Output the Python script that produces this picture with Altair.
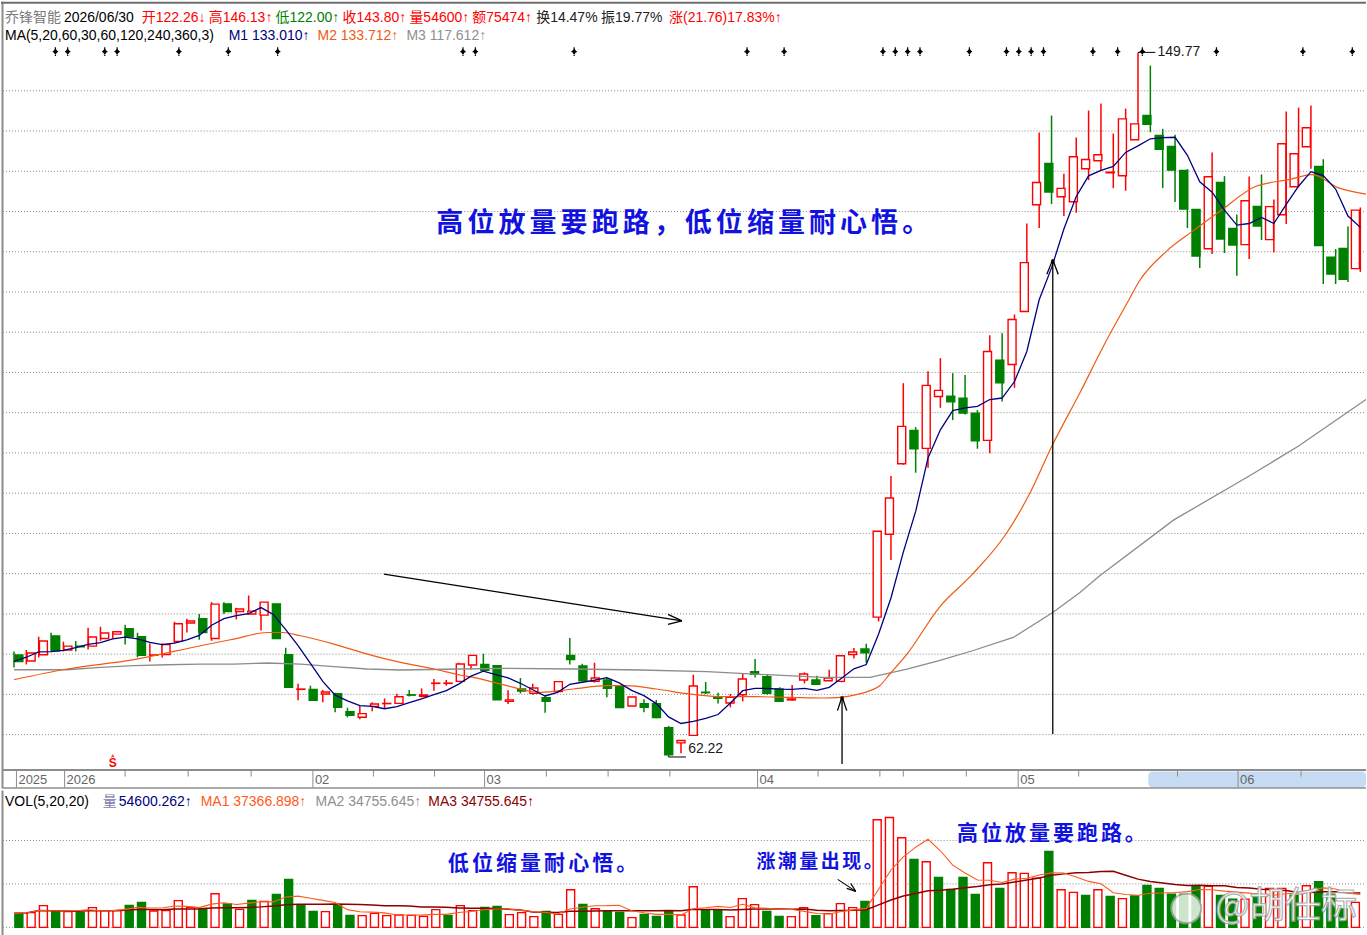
import altair as alt
import pandas as pd

# ---------------- data ----------------
opens = [74.89, 74.14, 74.93, 77.25, 75.51, 76.00, 76.00, 76.95, 77.49, 78.15,
         77.16, 74.84, 74.96, 76.58, 78.86, 79.39, 76.95, 81.25, 80.30, 79.98,
         79.85, 81.25, 74.93, 70.62, 70.62, 70.05, 70.09, 67.85, 67.15, 68.51,
         68.85, 68.88, 69.95, 69.75, 71.36, 71.36, 71.61, 73.65, 73.72, 73.56,
         69.13, 70.67, 70.12, 69.59, 70.34, 74.84, 73.52, 71.61, 71.79, 71.08,
         68.56, 68.85, 68.85, 65.87, 63.97, 64.91, 70.27, 69.68, 68.93, 69.96,
         72.82, 72.20, 70.67, 69.31, 71.79, 71.79, 71.70, 71.61, 74.96, 75.63,
         79.60, 89.90, 98.66, 102.80, 100.57, 107.02, 107.06, 106.81, 104.95, 101.56,
         111.53, 110.99, 117.57, 130.84, 135.97, 131.84, 131.22, 135.31, 136.30, 134.82,
         134.44, 138.91, 141.92, 139.44, 138.08, 135.10, 130.26, 125.38, 133.61, 127.90,
         125.88, 130.63, 126.50, 129.60, 133.08, 138.04, 135.60, 124.31, 125.42, 122.90]
highs = [75.33, 75.51, 77.16, 77.66, 76.54, 76.63, 78.28, 78.40, 77.78, 78.65,
         77.66, 76.33, 76.33, 79.02, 79.39, 79.98, 81.46, 81.46, 80.76, 82.28,
         81.46, 81.25, 75.79, 71.33, 71.08, 70.55, 70.21, 68.35, 68.56, 69.01,
         69.50, 70.09, 70.55, 70.74, 71.91, 71.79, 73.93, 74.84, 75.05, 73.56,
         70.50, 72.03, 71.33, 69.88, 71.66, 77.00, 73.81, 73.93, 72.11, 71.08,
         69.68, 69.38, 69.31, 66.08, 64.26, 72.44, 71.54, 70.21, 70.05, 72.61,
         74.39, 72.44, 70.87, 71.17, 72.73, 72.32, 73.06, 74.80, 75.76, 76.29,
         90.27, 97.13, 108.67, 103.21, 110.16, 111.77, 109.91, 109.67, 105.32, 114.63,
         114.88, 117.20, 128.52, 139.81, 141.92, 134.69, 139.19, 142.54, 143.41, 139.69,
         142.79, 149.77, 148.13, 140.27, 139.53, 135.26, 130.26, 137.33, 134.39, 129.64,
         134.36, 134.60, 131.50, 142.42, 142.92, 143.16, 136.50, 125.34, 128.15, 130.50]
lows = [73.35, 73.72, 74.59, 75.42, 75.33, 75.33, 75.58, 76.66, 76.91, 76.20,
        74.59, 74.09, 74.59, 76.41, 77.69, 76.79, 76.66, 79.98, 79.31, 79.98,
        77.94, 76.87, 70.87, 69.26, 69.26, 69.01, 67.77, 67.15, 66.90, 67.89,
        68.31, 68.88, 69.75, 69.63, 70.46, 71.08, 71.61, 73.10, 72.98, 69.34,
        68.81, 70.12, 69.96, 67.73, 70.34, 73.72, 71.70, 71.45, 69.63, 68.35,
        68.56, 67.77, 67.02, 62.22, 62.68, 64.91, 70.05, 68.88, 68.39, 69.13,
        72.11, 69.96, 69.13, 69.22, 71.36, 71.24, 71.70, 71.49, 74.47, 73.93,
        79.06, 86.71, 98.54, 97.54, 98.16, 105.61, 104.08, 104.79, 100.52, 99.95,
        106.40, 108.09, 117.57, 127.94, 130.92, 129.43, 129.85, 133.90, 135.06, 132.90,
        132.58, 138.91, 139.85, 132.90, 131.17, 127.94, 122.98, 124.71, 124.84, 122.03,
        124.09, 126.45, 124.89, 128.44, 133.08, 135.31, 120.99, 120.99, 121.24, 122.50]
closes = [74.09, 75.14, 76.63, 75.42, 76.00, 75.92, 77.12, 77.62, 77.78, 77.16,
          74.84, 74.90, 76.20, 78.77, 79.11, 77.69, 81.22, 80.30, 80.60, 80.35,
          81.46, 76.95, 70.87, 70.66, 69.26, 70.30, 68.39, 67.39, 67.61, 68.81,
          68.88, 69.71, 69.90, 69.93, 71.40, 71.40, 73.77, 74.84, 72.98, 69.34,
          69.31, 70.42, 70.79, 69.13, 71.58, 74.34, 71.70, 72.03, 70.74, 68.35,
          69.68, 68.39, 67.11, 62.48, 64.26, 71.04, 70.21, 69.50, 69.63, 71.91,
          72.48, 70.12, 69.13, 69.43, 72.53, 71.24, 72.03, 74.80, 75.26, 75.17,
          90.27, 94.40, 103.30, 100.52, 108.39, 107.77, 106.35, 104.95, 101.51, 112.60,
          108.71, 116.58, 123.65, 133.61, 132.41, 132.87, 136.80, 136.46, 137.05, 134.88,
          141.51, 140.89, 140.84, 137.74, 135.14, 130.30, 124.47, 134.32, 126.58, 125.83,
          131.34, 128.19, 130.60, 138.41, 137.17, 140.40, 125.76, 122.23, 121.58, 130.17]

volumes = [30600, 32100, 47400, 34300, 34300, 32800, 43000, 36500, 36500, 48000,
           54600, 35600, 36500, 58300, 43700, 41500, 73600, 50900, 39300, 59000,
           56800, 72100, 104800, 48700, 34900, 34300, 49600, 26200, 25600, 30600,
           25600, 26900, 26200, 24000, 38700, 26200, 47400, 36500, 43700, 45900,
           27700, 32100, 23400, 34900, 28400, 82300, 50200, 40800, 35600, 32800,
           21200, 28400, 24000, 35600, 26900, 88900, 38700, 38700, 23400, 62700,
           49600, 34900, 24000, 23400, 43000, 25600, 29900, 51800, 43000, 56800,
           235200, 240200, 195900, 148500, 143500, 109200, 83000, 109200, 72100, 141300,
           85200, 119500, 117900, 107700, 166000, 82300, 76400, 69900, 82300, 67700,
           62700, 68400, 91700, 85200, 72700, 72700, 91100, 89500, 69900, 61800,
           61800, 72700, 85200, 85200, 70500, 91100, 99800, 72700, 40000, 54600]
vol_up = [0, 1, 1, 0, 1, 0, 1, 1, 1, 0,
          0, 1, 1, 1, 1, 0, 1, 0, 1, 0,
          1, 0, 0, 0, 0, 1, 0, 0, 1, 1,
          1, 1, 1, 1, 1, 0, 1, 1, 0, 0,
          1, 1, 1, 0, 1, 1, 0, 1, 0, 0,
          1, 0, 0, 0, 1, 1, 0, 0, 1, 1,
          1, 0, 0, 1, 1, 0, 1, 1, 1, 0,
          1, 1, 1, 0, 1, 0, 0, 0, 0, 1,
          0, 1, 1, 1, 0, 1, 1, 0, 1, 0,
          1, 0, 0, 0, 0, 0, 0, 1, 0, 0,
          1, 0, 1, 1, 0, 1, 0, 0, 0, 1]

# MA lines (candle index, value)
m2_idx = [0, 4.3, 9.7, 15.1, 17.8, 20.5, 21.8, 23.2, 25.9, 28.6, 31.3, 34.0, 36.1, 37.2,
          39.9, 42.6, 45.3, 48.0, 49.6, 52.0, 54.7, 57.4, 60.1, 62.8, 65.5, 66.9, 68.2,
          69.3, 70.1, 70.9, 72.3, 74.9, 77.6, 80.3, 82.2, 84.1, 86.3, 88.2, 90.2, 91.1,
          93.3, 95.4, 97.8, 100.5, 103.2, 105.1, 107.3, 109.5]
m2_val = [71.82, 73.15, 74.31, 76.04, 76.87, 77.69, 77.69, 77.28, 76.25, 75.01, 73.97,
          73.15, 72.41, 72.11, 71.08, 70.25, 70.67, 71.08, 71.08, 70.67, 70.05, 69.71,
          69.71, 69.63, 69.55, 69.63, 69.96, 70.46, 71.08, 72.53, 75.01, 80.79, 84.94,
          89.90, 94.86, 101.07, 107.47, 113.26, 118.85, 121.33, 125.05, 127.53, 130.22,
          133.11, 133.95, 134.57, 132.90, 132.16]
m3_idx = [0, 4.3, 7.0, 9.7, 12.4, 15.1, 17.8, 20.5, 23.2, 25.9, 28.6, 31.3, 36.1, 39.9,
          45.3, 50.7, 56.1, 61.4, 65.5, 69.3, 72.3, 74.9, 77.6, 80.9, 84.1, 86.3, 87.9,
          93.9, 100.0, 104.0, 109.5]
m3_val = [73.06, 73.06, 73.35, 73.56, 73.68, 73.77, 73.77, 73.90, 73.77, 73.44, 73.15,
          73.03, 73.15, 73.23, 73.15, 73.03, 72.82, 72.41, 72.11, 72.11, 73.15, 74.18,
          75.42, 77.07, 80.17, 82.66, 84.73, 91.68, 97.13, 100.86, 106.69]

marker_idx = [3, 4, 7, 8, 13, 17, 21, 36, 37, 45, 59, 62, 70, 71, 72, 73, 77, 80, 81,
              82, 83, 87, 89, 91, 97, 104, 108]

date_tick_idx = [0.2, 4.1, 9.0, 14.1, 19.2, 24.2, 29.1, 34.05, 38.1, 43.1, 48.1, 53.1,
                 60.2, 65.1, 70.1, 72.0, 77.1, 81.3, 86.2, 94.2, 99.1, 104.2]
date_tick_lab = ["2025", "2026", "", "", "", "02", "", "", "03", "", "", "",
                 "04", "", "", "", "", "05", "", "", "06", ""]

price_grid = list(range(65, 150, 5))
vol_grid = [0, 95000, 190000]

# ---------------- styling ----------------
RED, GREEN, NAVY = "#FF0000", "#008000", "#000080"
ORANGE, GRAY, MAROON = "#F05A14", "#8C8C8C", "#8B0000"
BLUE = "#1212E0"
FONT = "Liberation Sans, Noto Sans CJK SC"
CJK = "Noto Sans CJK SC"
W, HP, HV = 1367, 788, 147
XD = [-1.051, 109.459]
PD = [58.30, 156.07]
VD = [-21840, 299208]


def X(f="i"):
    return alt.X(f"{f}:Q", scale=alt.Scale(domain=XD, nice=False, zero=False), axis=None)


def X2(f):
    return alt.X2(f"{f}:Q")


def YP(f):
    return alt.Y(f"{f}:Q", scale=alt.Scale(domain=PD, nice=False, zero=False), axis=None)


def YV(f):
    return alt.Y(f"{f}:Q", scale=alt.Scale(domain=VD, nice=False, zero=False), axis=None)


def PX(f):
    return alt.X(f"{f}:Q", scale=None, axis=None)


def PY(f):
    return alt.Y(f"{f}:Q", scale=None, axis=None)


one = pd.DataFrame({"a": [0]})
df = pd.DataFrame({"i": list(range(len(closes))), "o": opens, "h": highs, "l": lows, "c": closes})
vdf = pd.DataFrame({"i": list(range(len(volumes))), "v": volumes, "up": vol_up})
up_cond = "datum.c >= datum.o"

# ---------------- price panel ----------------
grid = alt.Chart(pd.DataFrame({"p": price_grid})).mark_rule(
    color="#8a8a8a", strokeDash=[1, 2], strokeWidth=1).encode(
    y=YP("p"), x=alt.value(2), x2=alt.value(W))

wicks = alt.Chart(df).mark_rule(strokeWidth=1.5).encode(
    x=X(), y=YP("l"), y2="h:Q",
    color=alt.condition(up_cond, alt.value(RED), alt.value(GREEN)))

bodies = alt.Chart(df).transform_calculate(
    top="max(datum.o, datum.c)", bot="min(datum.o, datum.c)").mark_bar(
    size=8, strokeWidth=1.4, clip=True).encode(
    x=X(), y=YP("bot"), y2="top:Q",
    fill=alt.condition(up_cond, alt.value("white"), alt.value(GREEN)),
    stroke=alt.condition(up_cond, alt.value(RED), alt.value(GREEN)))

m3_line = alt.Chart(pd.DataFrame({"i": m3_idx, "v": m3_val})).mark_line(
    color=GRAY, strokeWidth=1.3, clip=True).encode(x=X(), y=YP("v"))
m2_line = alt.Chart(pd.DataFrame({"i": m2_idx, "v": m2_val})).mark_line(
    color=ORANGE, strokeWidth=1.2, clip=True, interpolate="monotone").encode(x=X(), y=YP("v"))
m1_line = alt.Chart(df).transform_window(
    m1="mean(c)", frame=[-4, 0], sort=[alt.SortField("i")]).mark_line(
    color=NAVY, strokeWidth=1.3, clip=True).encode(x=X(), y=YP("m1"))

marker_shape = "M0,-1L0,1M-0.6,0L0.6,0M0,-0.5L0.35,0L0,0.5L-0.35,0Z"
markers = alt.Chart(pd.DataFrame({"i": marker_idx})).transform_calculate(
    xm="datum.i + 0.35").mark_point(
    shape=marker_shape, filled=True, fill="black", stroke="black", size=80,
    strokeWidth=1.2, opacity=1).encode(
    x=X("xm"), y=alt.value(50))

# high / low labels
hi_i = int(max(range(len(highs)), key=lambda k: highs[k]))
lo_i = int(min(range(len(lows)), key=lambda k: lows[k]))
hl = pd.DataFrame({"i": [hi_i, lo_i], "p": [highs[hi_i], lows[lo_i]],
                   "txt": [f"{highs[hi_i]:.2f}", f"{lows[lo_i]:.2f}"]})
hl = hl.assign(i2=hl["i"] + 1.4, it=hl["i"] + 1.5)
hl_rule = alt.Chart(hl).mark_rule(color="black", strokeWidth=1).encode(
    x=X(), x2=X2("i2"), y=YP("p"))
hi_txt = alt.Chart(hl.iloc[[0]]).mark_text(
    align="left", baseline="middle", font=FONT, fontSize=14, color="#1a1a1a", dx=1).encode(
    x=X("it"), y=YP("p"), text="txt:N")
lo_txt = alt.Chart(hl.iloc[[1]]).mark_text(
    align="left", baseline="middle", font=FONT, fontSize=14, color="#1a1a1a", dx=1, dy=-8).encode(
    x=X("it"), y=YP("p"), text="txt:N")

# arrows (data coordinates: candle index, price)
arrows = pd.DataFrame({
    "x1": [29.95, 54.08, 54.08, 67.04, 67.04, 67.04, 84.10, 84.10, 84.10],
    "y1": [84.94, 79.14, 79.14, 61.36, 69.71, 69.71, 65.09, 124.02, 124.02],
    "x2": [54.08, 52.95, 52.95, 67.04, 66.67, 67.42, 84.10, 83.62, 84.54],
    "y2": [79.14, 79.95, 78.71, 69.71, 67.98, 67.98, 124.02, 122.20, 122.20]})
arrow_rules = alt.Chart(arrows).mark_rule(color="black", strokeWidth=1.3).encode(
    x=X("x1"), y=YP("y1"), x2=X2("x2"), y2="y2:Q")
arrow_tips = alt.Chart(pd.DataFrame({"i": [67.04, 84.10], "p": [69.5, 123.8]})).mark_point(
    shape="square", filled=True, color="black", size=14).encode(x=X(), y=YP("p"))

# header text
hdr = pd.DataFrame([
    ("乔锋智能", 4, 16, "#7a7a7a"), ("2026/06/30", 63, 16, "#000000"),
    ("开122.26↓", 141, 16, RED), ("高146.13↑", 208, 16, RED),
    ("低122.00↑", 275, 16, GREEN), ("收143.80↑", 342, 16, RED),
    ("量54600↑", 409, 16, RED), ("额75474↑", 472, 16, RED),
    ("换14.47%", 536, 16, "#222222"), ("振19.77%", 601, 16, "#222222"),
    ("涨(21.76)17.83%↑", 669, 16, RED),
    ("MA(5,20,60,30,60,120,240,360,3)", 4, 34, "#000000"),
    ("M1 133.010↑", 228, 34, NAVY), ("M2 133.712↑", 317, 34, ORANGE),
    ("M3 117.612↑", 406, 34, "#909090")], columns=["t", "x", "y", "col"])
hdr_text = alt.Chart(hdr).mark_text(align="left", baseline="middle", font=FONT, fontSize=14).encode(
    x=PX("x"), y=PY("y"), text="t:N", color=alt.Color("col:N", scale=None))


def char_rows(s, x0, step, y, fs):
    return [{"ch": ch, "x": x0 + step * k, "y": y, "fs": fs} for k, ch in enumerate(s)]


ann_top = pd.DataFrame(char_rows("高位放量要跑路，低位缩量耐心悟。", 449.5, 31.1, 223, 27))
ann_top_text = alt.Chart(ann_top).mark_text(
    font=CJK, fontWeight="bold", color=BLUE, align="center", baseline="middle").encode(
    x=PX("x"), y=PY("y"), text="ch:N", size=alt.Size("fs:Q", scale=None))

s_mark = alt.Chart(pd.DataFrame({"i": [8]})).mark_text(
    text="S", color=RED, font=FONT, fontWeight="bold", fontSize=12, baseline="middle").encode(
    x=X(), y=alt.value(762))
s_tri = alt.Chart(pd.DataFrame({"i": [8]})).mark_point(
    shape="triangle-up", filled=True, color=RED, size=14).encode(x=X(), y=alt.value(755))

# date strip
strip_bg = alt.Chart(one).mark_rect(color="#C6DCF3", cornerRadius=4).encode(
    x=alt.value(1149), x2=alt.value(W), y=alt.value(771), y2=alt.value(787))
strip_lines = alt.Chart(pd.DataFrame({"y": [769.5, 787.5], "w": [2, 1.5]})).mark_rule(
    color="#8c8c8c").encode(y=PY("y"), x=alt.value(2), x2=alt.value(W),
                            strokeWidth=alt.StrokeWidth("w:Q", scale=None))
ticks_df = pd.DataFrame({"i": date_tick_idx, "lab": date_tick_lab})
ticks_major = alt.Chart(ticks_df).transform_filter("datum.lab != ''").mark_rule(
    color="#8c8c8c", strokeWidth=1).encode(x=X(), y=alt.value(770), y2=alt.value(787))
ticks_minor = alt.Chart(ticks_df).transform_filter("datum.lab == ''").mark_rule(
    color="#8c8c8c", strokeWidth=1).encode(x=X(), y=alt.value(770), y2=alt.value(776))
tick_labels = alt.Chart(ticks_df).transform_filter("datum.lab != ''").mark_text(
    align="left", baseline="middle", font=FONT, fontSize=13, color="#666666", dx=2).encode(
    x=X(), y=alt.value(779), text="lab:N")

frame_left = alt.Chart(one).mark_rule(color="#8c8c8c", strokeWidth=2).encode(
    x=alt.value(1.5), y=alt.value(0), y2=alt.value(HP))
frame_top = alt.Chart(one).mark_rule(color="#6e6e6e", strokeWidth=2).encode(
    y=alt.value(1), x=alt.value(0), x2=alt.value(W))

top = alt.layer(
    grid, strip_bg, strip_lines, ticks_major, ticks_minor, tick_labels,
    wicks, bodies, m3_line, m2_line, m1_line,
    markers, hl_rule, hi_txt, lo_txt, arrow_rules, arrow_tips,
    hdr_text, ann_top_text, s_mark, s_tri, frame_left, frame_top
).resolve_scale(x="independent", y="independent").properties(width=W, height=HP)

# ---------------- volume panel ----------------
vgrid = alt.Chart(pd.DataFrame({"v": vol_grid})).mark_rule(
    color="#8a8a8a", strokeDash=[1, 2], strokeWidth=1).encode(
    y=YV("v"), x=alt.value(2), x2=alt.value(W))
vbars = alt.Chart(vdf).transform_calculate(zero="0").mark_bar(
    size=8, strokeWidth=1.4, clip=True).encode(
    x=X(), y=YV("v"), y2="zero:Q",
    fill=alt.condition("datum.up == 1", alt.value("white"), alt.value(GREEN)),
    stroke=alt.condition("datum.up == 1", alt.value(RED), alt.value(GREEN)))
vma20 = alt.Chart(vdf).transform_window(
    ma="mean(v)", frame=[-19, 0], sort=[alt.SortField("i")]).mark_line(
    color=MAROON, strokeWidth=1.5, clip=True).encode(x=X(), y=YV("ma"))
vma5 = alt.Chart(vdf).transform_window(
    ma="mean(v)", frame=[-4, 0], sort=[alt.SortField("i")]).mark_line(
    color="#FF5A1A", strokeWidth=1.1, clip=True).encode(x=X(), y=YV("ma"))

vhdr = pd.DataFrame([
    ("VOL(5,20,20)", 4, "#000000"), ("量", 102, "#8080B0"), ("54600.262↑", 118, NAVY),
    ("MA1 37366.898↑", 200, "#FF5A1A"), ("MA2 34755.645↑", 315, "#909090"),
    ("MA3 34755.645↑", 428, MAROON)], columns=["t", "x", "col"])
vhdr_text = alt.Chart(vhdr).mark_text(align="left", baseline="middle", font=FONT, fontSize=14).encode(
    x=PX("x"), y=alt.value(11), text="t:N", color=alt.Color("col:N", scale=None))

ann_vol = pd.DataFrame(
    char_rows("低位缩量耐心悟。", 458, 24.1, 74, 21)
    + char_rows("涨潮量出现。", 766, 21.5, 72, 19)
    + char_rows("高位放量要跑路。", 968, 24.0, 44, 21))
ann_vol_text = alt.Chart(ann_vol).mark_text(
    font=CJK, fontWeight="bold", color=BLUE, align="center", baseline="middle").encode(
    x=PX("x"), y=PY("y"), text="ch:N", size=alt.Size("fs:Q", scale=None))

varrow = pd.DataFrame({"x1": [66.69, 68.15, 68.15], "y1": [104832, 78624, 78624],
                       "x2": [68.15, 67.42, 67.74], "y2": [78624, 85176, 96096]})
varrow_rules = alt.Chart(varrow).mark_rule(color="black", strokeWidth=1.1).encode(
    x=X("x1"), y=YV("y1"), x2=X2("x2"), y2="y2:Q")

watermark = alt.Chart(pd.DataFrame({"t": ["@胡任标"], "x": [1287], "y": [117]})).mark_text(
    font=CJK, fontSize=36, fill="white", stroke="#a8a8a8", strokeWidth=1.2, opacity=0.9,
    align="center", baseline="middle").encode(x=PX("x"), y=PY("y"), text="t:N")
wlogo = alt.Chart(pd.DataFrame({"x": [1187], "y": [118]})).mark_point(
    shape="circle", filled=True, fill="white", stroke="#a8a8a8", strokeWidth=2, size=900,
    opacity=0.8).encode(x=PX("x"), y=PY("y"))

vframe_left = alt.Chart(one).mark_rule(color="#8c8c8c", strokeWidth=2).encode(
    x=alt.value(1.5), y=alt.value(0), y2=alt.value(HV))

bottom = alt.layer(
    vgrid, vbars, vma20, vma5, vhdr_text, ann_vol_text, varrow_rules,
    wlogo, watermark, vframe_left
).resolve_scale(x="independent", y="independent").properties(width=W, height=HV)

chart = alt.vconcat(top, bottom, spacing=0, padding=0, background="white").configure_view(
    stroke=None)

chart.save("out.html", embed_options={"renderer": "svg", "actions": False})
